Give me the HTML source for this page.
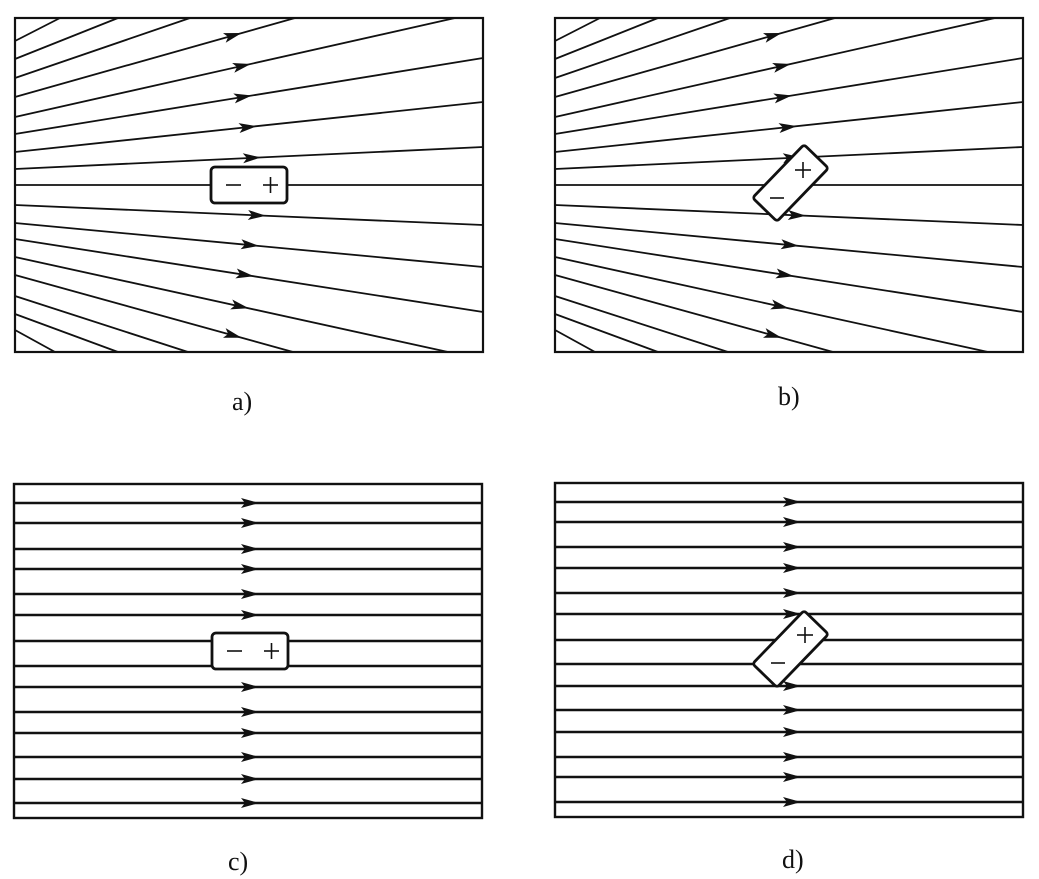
<!DOCTYPE html>
<html><head><meta charset="utf-8"><style>
html,body{margin:0;padding:0;background:#fff;}
svg{display:block;}
text{font-family:"Liberation Serif",serif;}
</style></head><body>
<svg id="s" width="1039" height="879" viewBox="0 0 1039 879" xmlns="http://www.w3.org/2000/svg">
<g id="g" stroke="#111" fill="none"></g>
<text x="232" y="410" font-size="26" fill="#111">a)</text>
<text x="778" y="405" font-size="26" fill="#111">b)</text>
<text x="228" y="870" font-size="26" fill="#111">c)</text>
<text x="782" y="868" font-size="26" fill="#111">d)</text>
</svg>
<script>
var g=document.getElementById('g');var NS='http://www.w3.org/2000/svg';
function el(t,a){var e=document.createElementNS(NS,t);for(var k in a)e.setAttribute(k,a[k]);g.appendChild(e);return e;}
function line(x1,y1,x2,y2,w){el('line',{x1:x1,y1:y1,x2:x2,y2:y2,'stroke-width':w});}
function arrow(x,y,ang){var L=18,W=5;var c=Math.cos(ang),s=Math.sin(ang);
var tx=x+L/2*c,ty=y+L/2*s,bx=x-L/2*c,by=y-L/2*s;
el('polygon',{points:tx+','+ty+' '+(bx-W*s)+','+(by+W*c)+' '+(bx+c*4)+','+(by+s*4)+' '+(bx+W*s)+','+(by-W*c),fill:'#111',stroke:'none'});}
var R=[[41,60,18],[59,118,18],[78,190,18],[97,295,18],[117,455,18],[134,483,58],[152,483,102],[169,483,147],[185,483,185],[205,483,225],[223,483,267],[239,483,312],[257,448,352],[275,293,352],[296,188,352],[314,118,352],[330,55,352]];
var AX={3:233,4:242,5:243,6:248,7:252,9:257,10:250,11:245,12:240,13:233};
[0,540].forEach(function(o){
 el('rect',{x:15+o,y:18,width:468,height:334,'stroke-width':2.2});
 R.forEach(function(r,i){line(15+o,r[0],r[1]+o,r[2],1.8);
  if(AX[i]!==undefined){var ax=AX[i];var t=(ax-15)/(r[1]-15);var ay=r[0]+t*(r[2]-r[0]);arrow(ax+o,ay,Math.atan2(r[2]-r[0],r[1]-15));}});
});
var C=[503,523,549,569,594,615,641,666,687,712,733,757,779,803];
el('rect',{x:14,y:484,width:468,height:334,'stroke-width':2.4});
C.forEach(function(y){line(14,y,482,y,2.4);if(y!=641&&y!=666)arrow(250,y,0);});
var D=[502,522,547,568,593,614,640,664,686,710,732,757,777,802];
el('rect',{x:555,y:483,width:468,height:334,'stroke-width':2.4});
D.forEach(function(y){line(555,y,1023,y,2.4);arrow(792,y,0);});
function hbox(x,y){el('rect',{x:x,y:y,width:76,height:36,rx:4,fill:'#fff','stroke-width':2.8});
 line(x+15,y+18,x+30,y+18,1.6);line(x+52,y+18,x+67,y+18,1.6);line(x+59.5,y+10,x+59.5,y+26,1.6);}
hbox(211,167);hbox(212,633);
function rbox(cx,cy){var gg=document.createElementNS(NS,'g');gg.setAttribute('transform','translate('+cx+','+cy+') rotate(-46)');g.appendChild(gg);
 var e=document.createElementNS(NS,'rect');var p={x:-37,y:-17,width:74,height:34,rx:3,fill:'#fff','stroke-width':2.8};for(var k in p)e.setAttribute(k,p[k]);gg.appendChild(e);}
rbox(790.5,183);rbox(790.5,649);
function pm(px,py,mx,my){line(px-8,py,px+8,py,1.6);line(px,py-8,px,py+8,1.6);line(mx-7,my,mx+7,my,1.6);}
pm(803,170,777,198);pm(805,635,778,663);
</script>
</body></html>
